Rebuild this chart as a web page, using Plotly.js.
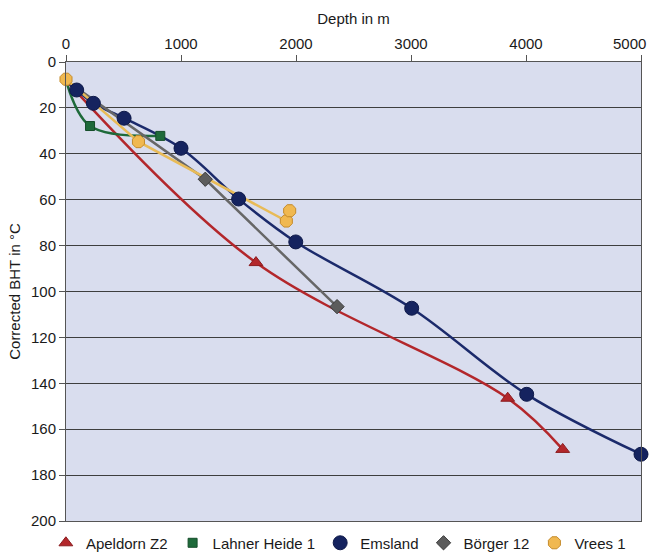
<!DOCTYPE html>
<html>
<head>
<meta charset="utf-8">
<script src="https://cdn.plot.ly/plotly-3.0.1.min.js"></script>
<style>html,body{margin:0;padding:0;background:#fff;}#chart{width:649px;height:553px;}</style>
</head>
<body>
<div id="chart"></div>
<script>
// Depth in m (x) and corrected BHT in °C (y) per well
var apeldornDepth = [0, 1652, 3841, 4319];
var apeldornTemp  = [8, 87.4, 146.5, 168.8];

var lahnerDepth = [0, 209, 820];
var lahnerTemp  = [8, 27.9, 32.2];

var emslandDepth = [0, 93, 238, 505, 1000, 1501, 1998, 3006, 4006, 5000];
var emslandTemp  = [8, 12.2, 18, 24.5, 37.6, 59.7, 78.4, 107.3, 144.8, 170.9];

var boergerDepth = [0, 1211, 2357];
var boergerTemp  = [8, 51.1, 106.6];

var vreesDepth = [0, 630, 1916, 1945];
var vreesTemp  = [7.5, 34.7, 69.3, 64.8];

var seriesNames = ['Apeldorn Z2', 'Lahner Heide 1', 'Emsland', 'Börger 12', 'Vrees 1'];
var xTickVals = [0, 1000, 2000, 3000, 4000, 5000];
var xTickText = ['0', '1000', '2000', '3000', '4000', '5000'];
var yTickVals = [0, 20, 40, 60, 80, 100, 120, 140, 160, 180, 200];

var series = [
  {name: seriesNames[0], x: apeldornDepth, y: apeldornTemp, color: '#b3272b', shape: 'spline',
   marker: {symbol: 'triangle-up', size: 12, color: '#b3272b', line: {color: '#8a1c1f', width: 1}}, skipFirst: true},
  {name: seriesNames[1], x: lahnerDepth, y: lahnerTemp, color: '#1e6a3a', shape: 'spline',
   marker: {symbol: 'square', size: 9, color: '#1e6a3a', line: {color: '#154d2a', width: 1}}, skipFirst: true},
  {name: seriesNames[2], x: emslandDepth, y: emslandTemp, color: '#1b2a6b', shape: 'spline',
   marker: {symbol: 'circle', size: 14, color: '#15235f', line: {color: '#0f1a4a', width: 1}}, skipFirst: true},
  {name: seriesNames[3], x: boergerDepth, y: boergerTemp, color: '#676767', shape: 'linear',
   marker: {symbol: 'diamond', size: 11, color: '#5c5c5c', line: {color: '#3a3a3a', width: 1}}, skipFirst: true},
  {name: seriesNames[4], x: vreesDepth, y: vreesTemp, color: '#e8bb57', shape: 'linear',
   marker: {symbol: 'octagon', size: 13, color: '#f0b850', line: {color: '#c48a2a', width: 1}}, skipFirst: false}
];

var traces = [];
series.forEach(function (s) {
  traces.push({
    type: 'scatter', mode: 'lines', x: s.x, y: s.y, showlegend: false, hoverinfo: 'skip',
    line: {color: s.color, width: 2.5, shape: s.shape, smoothing: 1}, cliponaxis: false
  });
});
series.forEach(function (s) {
  traces.push({
    type: 'scatter', mode: 'markers', name: s.name,
    x: s.skipFirst ? s.x.slice(1) : s.x,
    y: s.skipFirst ? s.y.slice(1) : s.y,
    marker: s.marker, cliponaxis: false
  });
});

var font = {family: 'Liberation Sans, Arial, sans-serif', size: 15, color: '#1a1a1a'};

// the last tick label sits flush with the right edge, as in the reference
var lastIdx = xTickVals.length - 1;
var shownTickText = xTickText.map(function (t, i) { return i === lastIdx ? '' : t; });

var layout = {
  width: 649, height: 553,
  margin: {l: 66, r: 8, t: 62, b: 32, pad: 0, autoexpand: false},
  paper_bgcolor: '#ffffff',
  plot_bgcolor: '#d9ddee',
  font: font,
  showlegend: true,
  legend: {
    orientation: 'h', x: -0.035, xanchor: 'left', y: -0.048, yanchor: 'middle',
    font: font, bgcolor: 'rgba(0,0,0,0)', itemclick: false, tracegroupgap: 0
  },
  annotations: [{
    x: xTickVals[lastIdx], xref: 'x', y: 1, yref: 'paper',
    text: xTickText[lastIdx], showarrow: false, font: font,
    xanchor: 'right', yanchor: 'middle', xshift: 7, yshift: 19
  }],
  xaxis: {
    side: 'top', range: [0, 5000], tickvals: xTickVals, ticktext: shownTickText,
    showgrid: false, zeroline: false, showline: true, linecolor: '#555', linewidth: 1,
    mirror: true, ticks: 'outside', ticklen: 6, tickcolor: '#555', tickfont: font,
    title: {text: 'Depth in m', font: {family: font.family, size: 15, color: '#1a1a1a'}, standoff: 6}
  },
  yaxis: {
    range: [200, 0], tickvals: yTickVals, ticktext: yTickVals.map(String),
    showgrid: true, gridcolor: '#3e3e3e', gridwidth: 1, zeroline: false,
    showline: true, linecolor: '#555', linewidth: 1, mirror: true,
    ticks: 'outside', ticklen: 6, tickcolor: '#555', tickfont: font,
    title: {text: 'Corrected BHT in °C', font: {family: font.family, size: 15, color: '#1a1a1a'}, standoff: 6}
  }
};

Plotly.newPlot('chart', traces, layout, {displayModeBar: false, staticPlot: true});
</script>
</body>
</html>
